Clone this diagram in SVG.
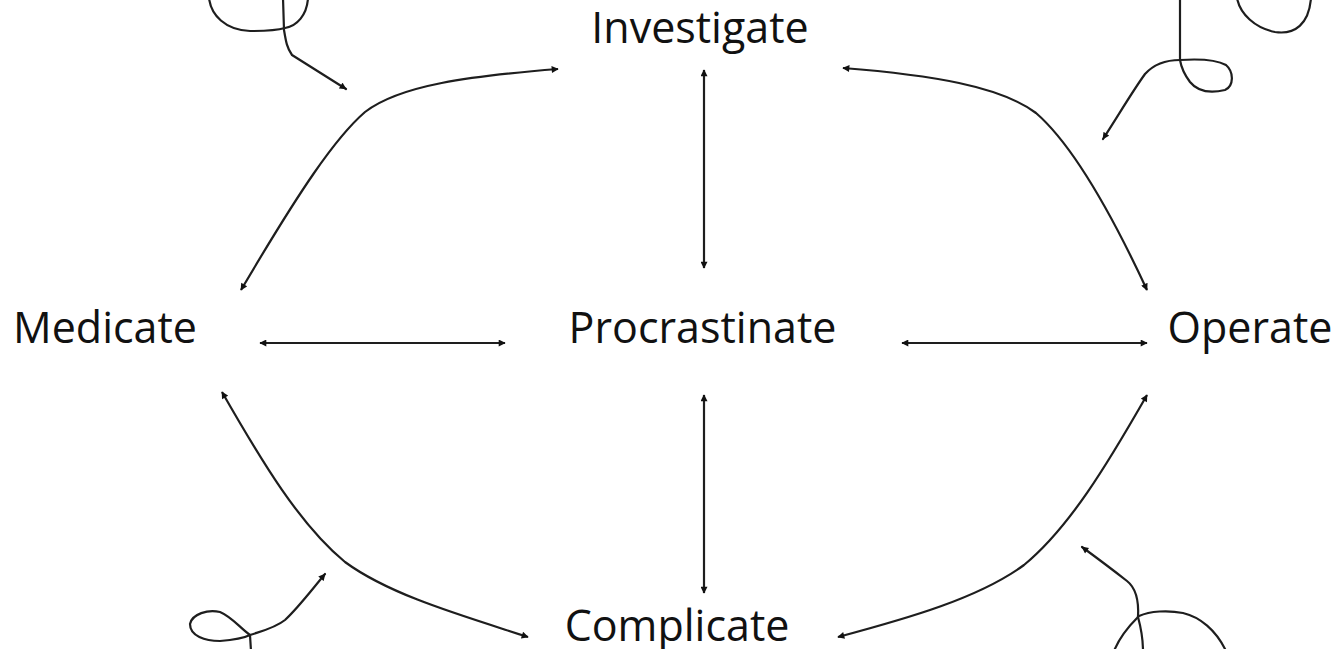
<svg xmlns="http://www.w3.org/2000/svg" width="1335" height="649" viewBox="0 0 1335 649">
  <defs>
    <style>
      .lbl { font-family: "Open Sans", "Noto Sans", sans-serif; font-size: 43px; fill: #111; text-anchor: middle; }
      .con { fill: none; stroke: #1e1e1e; stroke-width: 2.2; marker-start: url(#ah); marker-end: url(#ah); }
      .sq { fill: none; stroke: #1e1e1e; stroke-width: 2.2; stroke-linecap: round; stroke-linejoin: round; }
      .sqa { marker-end: url(#ah); }
    </style>
    <marker id="ah" viewBox="0 0 10 10" refX="9" refY="5" markerWidth="8" markerHeight="7" markerUnits="userSpaceOnUse" orient="auto-start-reverse">
      <path d="M0,0 L10,5 L0,10 z" fill="#111"/>
    </marker>
  </defs>
  <rect width="1335" height="649" fill="#fff"/>

  <g id="connectors">
    <path class="con" d="M704,70 L704,268"/>
    <path class="con" d="M704,395 L704,593"/>
    <path class="con" d="M260,343 L505,343"/>
    <path class="con" d="M902,343 L1147,343"/>
    <path class="con" d="M558,69 C470,76 400,85 365,112 C335,138 300,190 241,290"/>
    <path class="con" d="M843,68 C931,75 1000,86 1036,113 C1066,139 1101,191 1147,290"/>
    <path class="con" d="M222,392 C262,462 300,525 345,562 C390,595 460,615 528,637"/>
    <path class="con" d="M1147,395 C1107,465 1069,528 1024,565 C979,598 909,618 838,637"/>
  </g>

  <g id="squiggles">
    <path class="sq" d="M209,-2 C211,15 225,30 250,31 C265,31 278,30 285,28 C297,26 307,15 308,-2"/>
    <path class="sq sqa" d="M283,-2 L284,30 C286,42 287,48 292,55 L346,89"/>
    <path class="sq" d="M1180,-2 L1180,60 C1195,59 1215,59 1226,65 C1234,72 1234,86 1225,90 C1212,93 1198,92 1190,82 C1184,74 1181,66 1180,60"/>
    <path class="sq sqa" d="M1180,60 C1168,60 1155,63 1145,74 C1132,92 1118,116 1103,139"/>
    <path class="sq" d="M1237,-2 C1240,14 1255,28 1275,32 C1295,35 1309,24 1311,-2"/>
    <path class="sq sqa" d="M250,635 C262,631 275,628 285,620 C298,608 310,592 325,574"/>
    <path class="sq" d="M250,635 C240,628 232,617 220,612 C208,609 192,614 190,624 C190,636 205,641 220,641 C233,640 244,638 250,635 L251,651"/>
    <path class="sq sqa" d="M1138,617 C1139,600 1136,588 1127,581 C1113,570 1097,558 1082,547"/>
    <path class="sq" d="M1138,617 C1141,628 1143,638 1143,651"/>
    <path class="sq" d="M1138,617 C1130,625 1120,636 1114,651"/>
    <path class="sq" d="M1139,616 C1150,611 1168,610 1183,613 C1200,617 1216,630 1226,651"/>
  </g>

  <g id="node-investigate"><text class="lbl" x="700" y="43">Investigate</text></g>
  <g id="node-medicate"><text class="lbl" x="105" y="343">Medicate</text></g>
  <g id="node-procrastinate"><text class="lbl" x="702.5" y="343">Procrastinate</text></g>
  <g id="node-operate"><text class="lbl" x="1250" y="343">Operate</text></g>
  <g id="node-complicate"><text class="lbl" x="677" y="641">Complicate</text></g>
</svg>
